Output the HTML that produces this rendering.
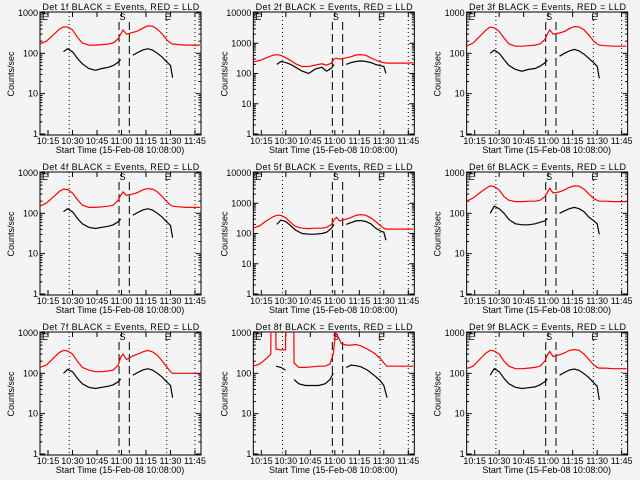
<!DOCTYPE html>
<html><head><meta charset="utf-8"><style>
body{margin:0;background:#f4f4f4}
svg{display:block}
text{font-family:"Liberation Sans",sans-serif;font-size:9px;fill:#000}
</style></head><body>
<svg id="c" width="640" height="480" xmlns="http://www.w3.org/2000/svg">
<rect width="640" height="480" fill="#f4f4f4"/>
</svg>
<script>
const T = [10,14,18,22,24.5,27,30,33,36,40,44,48,52,55,58,59.5,61,63,67,70,73,76,79,82,85,88,90,91.3,95,100,105,108];
const T8 = [10,14,18,20.8,20.9,23.8,24,27,29.8,29.9,34.9,35,38,42,46,50,54,57,59,60.5,62,64,67,70,73,76,80,84,88,90,92,96,100,105,108];
const n = null;
const red1 = [170,200,280,400,450,450,380,250,180,160,160,165,170,180,230,300,380,300,330,360,420,480,470,400,300,210,180,170,165,160,160,160];
const black1 = [n,n,n,n,110,130,110,75,55,42,38,42,45,50,60,70,n,n,90,105,120,130,120,100,80,60,50,25,n,n,n,n];
const red2 = [240,270,330,400,420,400,330,270,210,170,170,190,210,190,220,300,320,300,330,360,410,420,400,330,280,240,230,220,220,220,220,230];
const black2 = [n,n,n,n,200,250,230,200,160,120,100,140,160,120,150,200,n,n,200,230,250,260,250,230,200,180,170,100,n,n,n,n];
const red3 = [150,180,260,380,450,430,350,240,170,150,150,155,160,170,220,300,380,300,320,350,410,460,450,380,280,200,170,160,155,150,150,150];
const black3 = [n,n,n,n,100,120,100,70,50,40,36,40,42,48,58,68,n,n,85,100,115,125,115,95,75,58,48,24,n,n,n,n];
const red4 = [150,180,250,350,400,390,320,220,160,140,140,145,150,160,210,280,340,280,300,330,380,410,400,340,260,190,160,150,145,140,140,140];
const black4 = [n,n,n,n,110,130,110,75,55,45,42,45,48,52,62,72,n,n,90,105,120,130,120,100,80,60,50,25,n,n,n,n];
const red5 = [150,180,260,350,400,400,330,230,170,150,145,150,150,160,200,280,340,260,300,340,400,420,400,330,250,180,150,140,140,140,140,140];
const black5 = [n,n,n,n,200,280,250,180,130,100,95,95,100,110,150,200,n,n,200,230,260,270,250,210,150,120,110,60,n,n,n,n];
const red6 = [200,240,320,420,480,460,380,260,210,195,195,200,200,210,260,330,420,320,340,380,440,480,470,400,300,230,210,200,200,195,195,195];
const black6 = [n,n,n,n,100,150,130,100,70,55,52,52,55,60,65,75,n,n,100,115,130,140,130,110,80,65,55,30,n,n,n,n];
const red7 = [140,160,230,330,370,360,300,200,140,120,110,110,115,120,160,250,300,220,270,300,340,370,340,280,200,140,110,100,100,100,100,95];
const black7 = [n,n,n,n,100,125,110,75,55,45,42,45,48,52,62,72,n,n,90,105,120,130,120,100,80,60,50,25,n,n,n,n];
const red8 = [150,170,230,300,2000,2000,400,380,380,2000,2000,180,140,140,145,150,150,170,300,1000,800,550,500,500,520,480,400,320,230,180,150,150,150,150,150];
const black8 = [n,n,n,n,n,n,150,140,120,n,n,70,55,50,50,50,55,70,100,n,n,n,140,160,155,145,120,90,65,50,25,n,n,n,n];
const red9 = [130,150,220,320,370,360,300,200,150,130,130,135,140,150,200,280,350,260,290,320,370,390,370,300,220,160,140,135,135,130,130,130];
const black9 = [n,n,n,n,90,130,110,75,55,45,42,44,46,52,62,72,n,n,90,105,120,128,118,98,78,58,48,22,n,n,n,n];
const tickLabels = ["10:15","10:30","10:45","11:00","11:15","11:30","11:45"];
const tickTimes = [15,30,45,60,75,90,105];
const panels = [
 {d:"1",dec:3,t:T,r:red1,b:black1},{d:"2",dec:4,t:T,r:red2,b:black2},{d:"3",dec:3,t:T,r:red3,b:black3},
 {d:"4",dec:3,t:T,r:red4,b:black4},{d:"5",dec:4,t:T,r:red5,b:black5},{d:"6",dec:3,t:T,r:red6,b:black6},
 {d:"7",dec:3,t:T,r:red7,b:black7},{d:"8",dec:3,t:T8,r:red8,b:black8},{d:"9",dec:3,t:T,r:red9,b:black9}];
const NS="http://www.w3.org/2000/svg";
const svg=document.getElementById('c');
function mk(tag,attrs,parent,txt){const e=document.createElementNS(NS,tag);for(const k in attrs)e.setAttribute(k,attrs[k]);if(txt!=null)e.textContent=txt;parent.appendChild(e);return e;}
const L=40,R=201,TOP=12,BOT=135;
panels.forEach((p,i)=>{
 const ox=(i%3)*213.33, oy=Math.floor(i/3)*160;
 const g=mk('g',{transform:`translate(${ox},${oy})`},svg);
 
 
 const X=t=>48+(t-15)*1.633;
 const Y=v=>BOT-1-Math.log10(v)/p.dec*(BOT-1-TOP-1);
 const cid='clip'+i;
 const cp=mk('clipPath',{id:cid},g);mk('rect',{x:L,y:TOP,width:R-L,height:BOT-TOP},cp);
 const tt=mk('text',{x:121,y:10,'text-anchor':'middle','font-size':'9.5','letter-spacing':'0.4'},g,`Det ${p.d}f BLACK = Events, RED = LLD`);
 
 
 const yl=mk('text',{x:14,y:74,'text-anchor':'middle',transform:'rotate(-90 14 74)','font-size':'7.5'},g,'Counts/sec');
 
 
 const xl=mk('text',{x:120,y:153,'text-anchor':'middle','font-size':'8.5'},g,'Start Time (15-Feb-08 10:08:00)');
 
 
 mk('rect',{x:L,y:TOP,width:R-L,height:BOT-TOP,fill:'none',stroke:'#000','stroke-width':1},g);
 for(let k=0;k<=p.dec;k++){
  const y=Y(Math.pow(10,k));
  mk('line',{x1:L,x2:L+5,y1:y,y2:y,stroke:'#000'},g);mk('line',{x1:R-5,x2:R,y1:y,y2:y,stroke:'#000'},g);
  const lb=mk('text',{x:L-2,y:y+3,'text-anchor':'end','font-size':'8'},g,String(Math.pow(10,k)));
  
  
  if(k<p.dec)for(let m=2;m<10;m++){const ym=Y(m*Math.pow(10,k));
   mk('line',{x1:L,x2:L+2.5,y1:ym,y2:ym,stroke:'#000'},g);mk('line',{x1:R-2.5,x2:R,y1:ym,y2:ym,stroke:'#000'},g);}
 }
 tickTimes.forEach((t,j)=>{const x=X(t);
  mk('line',{x1:x,x2:x,y1:BOT,y2:BOT-5,stroke:'#000'},g);mk('line',{x1:x,x2:x,y1:TOP,y2:TOP+5,stroke:'#000'},g);
  const lb=mk('text',{x:x,y:144,'text-anchor':'middle','font-size':'7.5'},g,tickLabels[j]);
  
  
 });
 [28,87.7,105].forEach(t=>mk('line',{x1:X(t),x2:X(t),y1:TOP,y2:BOT,stroke:'#000','stroke-dasharray':'1,3'},g));
 [58.5,64.8].forEach(t=>mk('line',{x1:X(t),x2:X(t),y1:TOP+10,y2:BOT-2,stroke:'#000','stroke-dasharray':'8,4'},g));
 [['E',42],['S',X(58.8)],['E',X(86.5)]].forEach(([s,x])=>mk('text',{x:x,y:20,'font-size':'14'},g,s));
 const cg=mk('g',{'clip-path':`url(#${cid})`},g);
 function path(arr,col,name){let d='';let pen=false;
  arr.forEach((v,j)=>{if(v==null){pen=false;return;}d+=(pen?'L':'M')+X(p.t[j]).toFixed(1)+','+Y(v).toFixed(1);pen=true;});
  const e=mk('path',{d:d,fill:'none',stroke:col,'stroke-width':1.2},cg);
  
  }
 path(p.r,'#ff0000','red-lld-line');
 path(p.b,'#000000','black-events-line');
});
</script>
</body></html>
